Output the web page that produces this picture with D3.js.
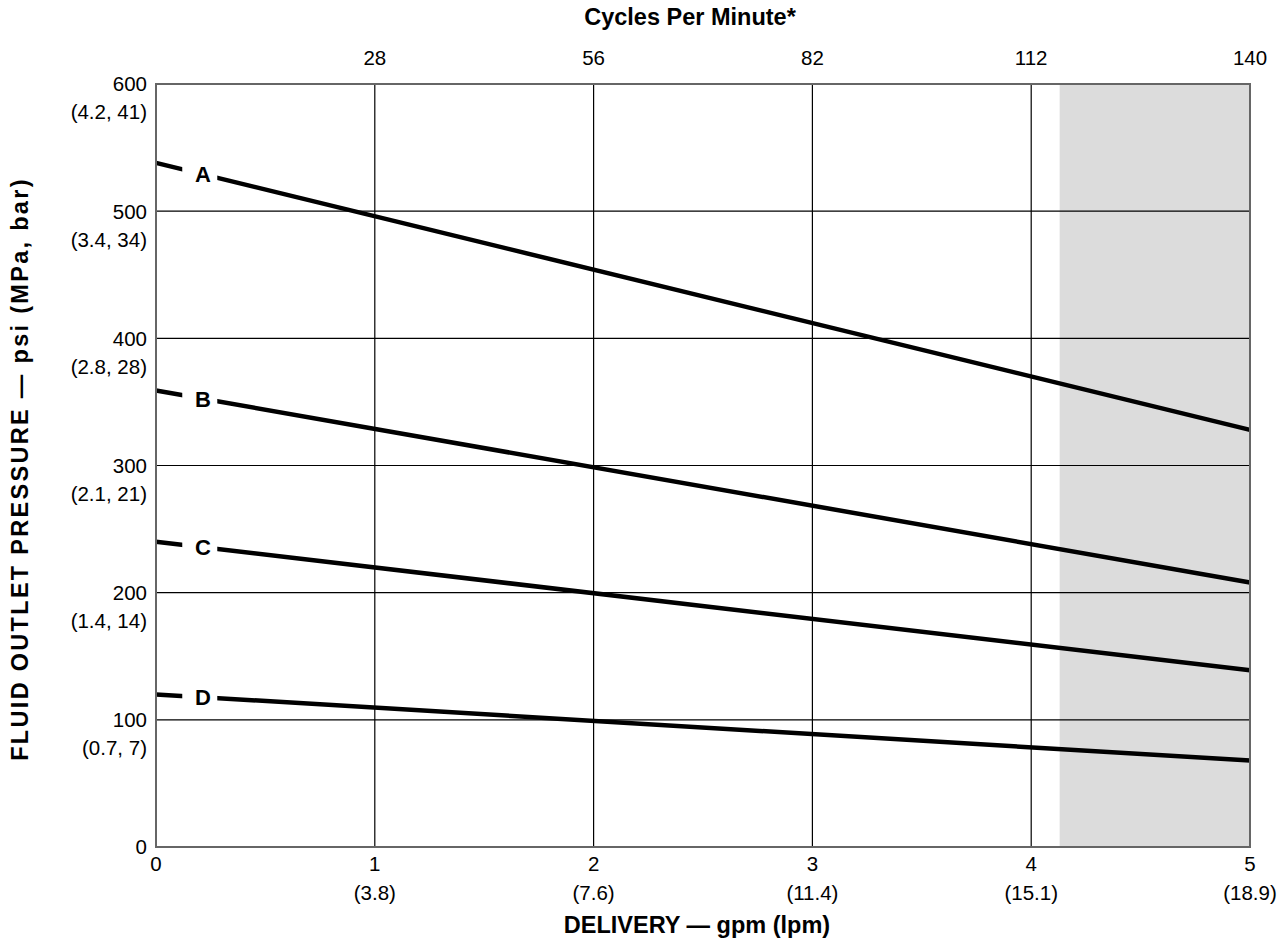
<html>
<head>
<script src="https://d3js.org/d3.v7.min.js"></script>
<style>
  body { margin: 0; background: #fff; }
  text { font-family: "Liberation Sans", Arial, Helvetica, sans-serif; fill: #000; }
</style>
</head>
<body>
<script type="text/javascript">

// gpm ticks and their lpm labels
var gpmTicks = [0, 1, 2, 3, 4, 5];
var lpmLabels = ["", "(3.8)", "(7.6)", "(11.4)", "(15.1)", "(18.9)"];
// top axis, cycles per minute at gpm 1..5
var cpmTicks = [1, 2, 3, 4, 5];
var cpmLabels = ["28", "56", "82", "112", "140"];
// psi ticks and MPa, bar labels
var psiTicks = [0, 100, 200, 300, 400, 500, 600];
var mpaLabels = ["", "(0.7, 7)", "(1.4, 14)", "(2.1, 21)", "(2.8, 28)", "(3.4, 34)", "(4.2, 41)"];

// curves, read at 0 gpm and 5 gpm
var curveNames = ["A", "B", "C", "D"];
var curveGpm = [0, 5];
var curveA = [538, 328];
var curveB = [359, 208];
var curveC = [240, 139];
var curveD = [120, 68];
var curves = [curveA, curveB, curveC, curveD];

// shaded region start (gpm)
var shadeStart = 4.13;
var labelAt = 0.215;

var chartW = 1278, chartH = 945;
var plotLeft = 156, plotRight = 1250, plotTop = 84, plotBottom = 847;

var svg = d3.select("body").append("svg").attr("width", chartW).attr("height", chartH);

var x = d3.scaleLinear().domain([0, 5]).range([plotLeft, plotRight]);
var y = d3.scaleLinear().domain([0, 600]).range([plotBottom, plotTop]);

//shaded area
svg.append("rect")
    .attr("x", x(shadeStart)).attr("y", y(600))
    .attr("width", x(5) - x(shadeStart)).attr("height", y(0) - y(600))
    .attr("fill", "#dcdcdc");

//grid lines
svg.selectAll(".vgrid").data([1, 2, 3, 4]).enter().append("line")
    .attr("x1", function(d) { return x(d); }).attr("x2", function(d) { return x(d); })
    .attr("y1", y(0)).attr("y2", y(600))
    .attr("stroke", "#000").attr("stroke-width", 1.2);
svg.selectAll(".hgrid").data([100, 200, 300, 400, 500]).enter().append("line")
    .attr("y1", function(d) { return y(d); }).attr("y2", function(d) { return y(d); })
    .attr("x1", x(0)).attr("x2", x(5))
    .attr("stroke", "#000").attr("stroke-width", 1.2);

//curves
var line = d3.line()
    .x(function(d, i) { return x(curveGpm[i]); })
    .y(function(d) { return y(d); });

curves.forEach(function(c, k) {
    svg.append("path").datum(c)
        .attr("d", line)
        .attr("fill", "none").attr("stroke", "#000").attr("stroke-width", 4.5);

    var v = c[0] + (c[1] - c[0]) * (labelAt - curveGpm[0]) / (curveGpm[1] - curveGpm[0]);
    //gap behind the label
    svg.append("rect")
        .attr("x", x(0.12)).attr("y", y(v) - 10)
        .attr("width", x(0.28) - x(0.12)).attr("height", 20)
        .attr("fill", "#fff");
    svg.append("text")
        .text(curveNames[k])
        .attr("x", x(labelAt)).attr("y", y(v))
        .attr("dy", "0.36em")
        .attr("text-anchor", "middle")
        .attr("font-size", "22px").attr("font-weight", "bold");
});

//frame
svg.append("rect")
    .attr("x", x(0)).attr("y", y(600))
    .attr("width", x(5) - x(0)).attr("height", y(0) - y(600))
    .attr("fill", "none").attr("stroke", "#666").attr("stroke-width", 2);

//left labels
svg.selectAll(".ylab").data(psiTicks).enter().append("text")
    .text(function(d) { return d; })
    .attr("x", 147).attr("y", function(d) { return y(d); })
    .attr("dy", "0.36em").attr("text-anchor", "end")
    .attr("font-size", "20.5px");
svg.selectAll(".ylab2").data(psiTicks).enter().append("text")
    .text(function(d, i) { return mpaLabels[i]; })
    .attr("x", 147).attr("y", function(d) { return y(d) + 28; })
    .attr("dy", "0.36em").attr("text-anchor", "end")
    .attr("font-size", "20.5px");

//bottom labels
svg.selectAll(".xlab").data(gpmTicks).enter().append("text")
    .text(function(d) { return d; })
    .attr("x", function(d) { return x(d); }).attr("y", 864)
    .attr("dy", "0.36em").attr("text-anchor", "middle")
    .attr("font-size", "20.5px");
svg.selectAll(".xlab2").data(gpmTicks).enter().append("text")
    .text(function(d, i) { return lpmLabels[i]; })
    .attr("x", function(d) { return x(d); }).attr("y", 893)
    .attr("dy", "0.36em").attr("text-anchor", "middle")
    .attr("font-size", "20.5px");

//top labels
svg.selectAll(".tlab").data(cpmTicks).enter().append("text")
    .text(function(d, i) { return cpmLabels[i]; })
    .attr("x", function(d) { return x(d); }).attr("y", 58)
    .attr("dy", "0.36em").attr("text-anchor", "middle")
    .attr("font-size", "20.5px");

//titles
svg.append("text").text("Cycles Per Minute*")
    .attr("x", 690).attr("y", 17).attr("dy", "0.36em")
    .attr("text-anchor", "middle").attr("font-size", "23.5px").attr("font-weight", "bold");
svg.append("text").text("DELIVERY \u2014 gpm (lpm)")
    .attr("x", 697).attr("y", 925).attr("dy", "0.36em")
    .attr("text-anchor", "middle").attr("font-size", "23.5px").attr("font-weight", "bold");
svg.append("text").text("FLUID OUTLET PRESSURE \u2014 psi (MPa, bar)")
    .attr("transform", "translate(20,469) rotate(-90)")
    .attr("dy", "0.36em")
    .attr("letter-spacing", "2.3px")
    .attr("text-anchor", "middle").attr("font-size", "23.5px").attr("font-weight", "bold");

</script>
</body>
</html>
